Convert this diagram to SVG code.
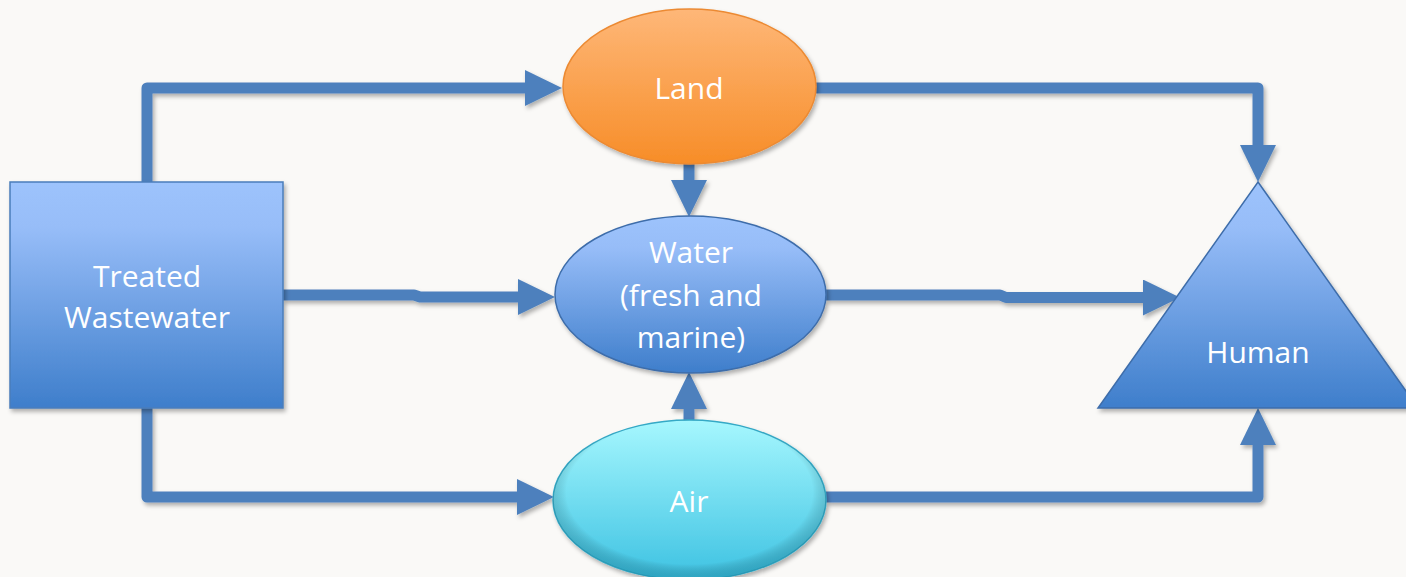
<svg xmlns="http://www.w3.org/2000/svg" width="1406" height="577" viewBox="0 0 1406 577">
<defs>
<linearGradient id="gBlue" x1="0" y1="0" x2="0" y2="1">
<stop offset="0" stop-color="#9DC3FC"/><stop offset="0.2" stop-color="#97BDF8"/><stop offset="1" stop-color="#3E7ECB"/>
</linearGradient>
<linearGradient id="gOrange" x1="0" y1="0" x2="0" y2="1">
<stop offset="0" stop-color="#FEB778"/><stop offset="1" stop-color="#F78D28"/>
</linearGradient>
<linearGradient id="gCyan" x1="0" y1="0" x2="0" y2="1">
<stop offset="0" stop-color="#A6F7FE"/><stop offset="1" stop-color="#3DC2E2"/>
</linearGradient>
<radialGradient id="gCyanEdge" cx="0.5" cy="0.45" r="0.55">
<stop offset="0.82" stop-color="#000000" stop-opacity="0"/><stop offset="1" stop-color="#0A6F8A" stop-opacity="0.35"/>
</radialGradient>
<filter id="sh" x="-10%" y="-10%" width="130%" height="130%">
<feDropShadow dx="2" dy="3" stdDeviation="2" flood-color="#000" flood-opacity="0.3"/>
</filter>
<marker id="ah" markerUnits="userSpaceOnUse" markerWidth="37" markerHeight="36" refX="0" refY="18" orient="auto" viewBox="0 0 37 36">
<path d="M0,0 L37,18 L0,36 Z" fill="#4E80BD"/>
</marker>
<style>
.lbl{font-family:"Open Sans","Liberation Sans",sans-serif;font-size:30px;fill:#FFFFFF;text-anchor:middle}
.con{fill:none;stroke:#4E80BD;stroke-width:11;stroke-linejoin:round;marker-end:url(#ah)}
</style>
</defs>
<rect width="1406" height="577" fill="#FAF9F7"/>
<g id="connectors" filter="url(#sh)">
<path class="con" d="M147,182 V88 H525"/>
<path class="con" d="M689,164 V180"/>
<path class="con" d="M689,421 V409"/>
<path class="con" d="M283,295 H414 L420,297 H518"/>
<path class="con" d="M826,295 H1000 L1006,297.5 H1143"/>
<path class="con" d="M816,88 H1258 V145"/>
<path class="con" d="M147,408 V497 H517"/>
<path class="con" d="M826,497 H1258 V445"/>
</g>
<g id="treated-wastewater">
<rect x="10" y="182" width="273" height="226" fill="url(#gBlue)" stroke="#4A7EBB" stroke-width="1.5" filter="url(#sh)"/>
<text class="lbl" x="147" y="287">Treated</text>
<text class="lbl" x="147" y="328">Wastewater</text>
</g>
<g id="land">
<ellipse cx="689.5" cy="86.5" rx="126.5" ry="77.5" fill="url(#gOrange)" stroke="#EC8A33" stroke-width="1.5" filter="url(#sh)"/>
<text class="lbl" x="689" y="99">Land</text>
</g>
<g id="water">
<ellipse cx="690.5" cy="294.5" rx="135.5" ry="78.5" fill="url(#gBlue)" stroke="#3E6DAA" stroke-width="1.5" filter="url(#sh)"/>
<text class="lbl" x="691" y="263">Water</text>
<text class="lbl" x="691" y="306">(fresh and</text>
<text class="lbl" x="691" y="348">marine)</text>
</g>
<g id="air">
<ellipse cx="689.5" cy="500" rx="136.5" ry="80" fill="url(#gCyan)" stroke="#35A9C6" stroke-width="1.5" filter="url(#sh)"/>
<ellipse cx="689.5" cy="500" rx="136.5" ry="80" fill="url(#gCyanEdge)"/>
<text class="lbl" x="689" y="512">Air</text>
</g>
<g id="human">
<polygon points="1258,182 1418,408 1098,408" fill="url(#gBlue)" stroke="#3E6DAA" stroke-width="1.5" filter="url(#sh)"/>
<text class="lbl" x="1258" y="363">Human</text>
</g>
</svg>
